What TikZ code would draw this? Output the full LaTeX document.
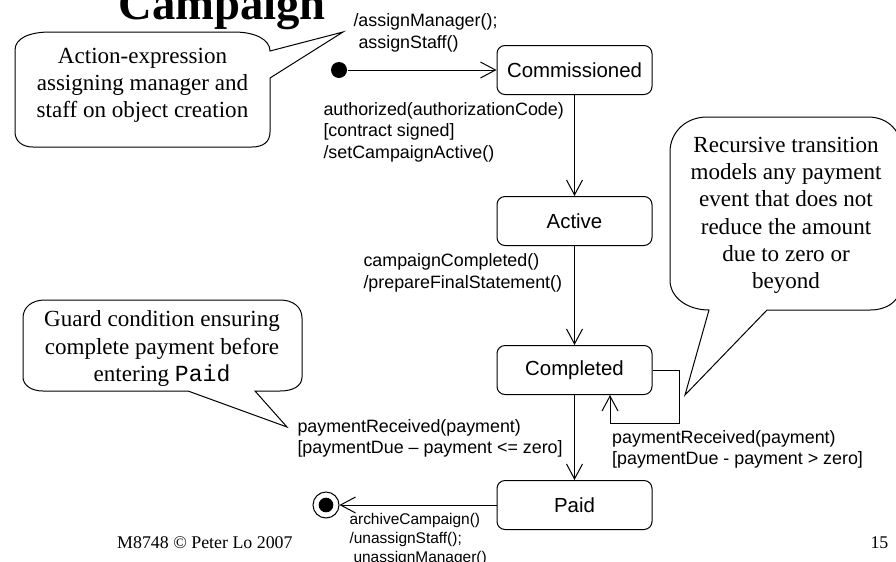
\documentclass[tikz,border=0pt]{standalone}
\usepackage{fontspec}
\setmainfont{Liberation Serif}
\setsansfont{Liberation Sans}
\setmonofont{Liberation Mono}
\usetikzlibrary{arrows.meta}

\begin{document}
\begin{tikzpicture}[x=0.75pt,y=-0.75pt,
  line width=0.75pt,
  state/.style={draw, rounded corners=6pt, minimum width=116.25pt,
    minimum height=36.75pt, inner sep=0pt,
    font=\fontsize{15.3}{18}\selectfont\sffamily},
  trans/.style={-{Straight Barb[length=11.25pt,width=12pt]}},
  lbl/.style={anchor=north west, inner sep=0pt, align=left,
    font=\fontsize{13.4}{16.1}\selectfont\sffamily},
  smalllbl/.style={anchor=north west, inner sep=0pt, align=left,
    font=\fontsize{11.6}{14.2}\selectfont\sffamily},
  callout/.style={draw, fill=white},
  callouttext/.style={anchor=north, inner sep=0pt, align=center,
    font=\fontsize{17.3}{20.5}\selectfont}
]
% page area
\fill[white] (0,0) rectangle (896,561);
\useasboundingbox (0,0) rectangle (896,561);

% heading (runs off the top edge of the page)
\node[anchor=base west, inner sep=0pt,
  font=\fontsize{35}{40}\selectfont\bfseries] (title) at (118,19) {Campaign};

% states
\node[state] (comm) at (574.5,70)  {Commissioned};
\node[state] (act)  at (574.5,221) {Active};
\node[state] (comp) at (574.5,370) {Completed};
\node[state] (paid) at (574.5,505) {Paid};

% pseudo-states
\node[circle, fill, minimum size=12pt, inner sep=0pt] (init) at (339,70) {};
\node[circle, draw, minimum size=19.5pt, inner sep=0pt] (final) at (326,505) {};
\node[circle, fill, minimum size=11pt, inner sep=0pt] (finaldot) at (final) {};

% transitions
\draw[trans] (init) -- (comm);
\draw[trans] (comm) -- (act);
\draw[trans] (act) -- (comp);
\draw[trans] (comp) -- (paid);
\draw[trans] (paid) -- (final);

% self transition on Completed
\coordinate (loopA) at (679,370);
\coordinate (loopB) at (679,423);
\coordinate (loopC) at (610,423);
\draw[trans] (comp.east) -- (loopA) -- (loopB) -- (loopC) -- (loopC |- comp.south);

% transition labels
\node[lbl] (l1) at (353,13.5) {/assignManager();\\\hspace*{3.75pt}assignStaff()};
\node[lbl] (l2) at (323,101.7) {authorized(authorizationCode)\\{[contract signed]}\\/setCampaignActive()};
\node[lbl] (l3) at (363,253.4) {campaignCompleted()\\/prepareFinalStatement()};
\node[lbl] (l4) at (297,418.7) {paymentReceived(payment)\\{[paymentDue – payment <= zero]}};
\node[lbl] (l5) at (611.7,429.7) {paymentReceived(payment)\\{[paymentDue - payment > zero]}};
\node[smalllbl] (l6) at (349,512.8) {archiveCampaign()\\/unassignStaff();\\\hspace*{3pt}unassignManager()};

% callout: initial action
\draw[callout] (15,50) .. controls (15,38) and (30,32) .. (50,32) -- (234,32)
  .. controls (256,32) and (270,40) .. (270,51) -- (343,32) -- (270,78)
  -- (270,132) .. controls (270,142) and (263,147) .. (252,147) -- (33,147)
  .. controls (22,147) and (15,141) .. (15,132) -- cycle;
\node[callouttext] (c1) at (142.5,47.3) {Action-expression\\assigning manager and\\staff on object creation};

% callout: recursive transition
\draw[callout] (670,152) .. controls (670,132) and (686,117) .. (707,117) -- (868,117)
  .. controls (888,117) and (902,131) .. (902,152) -- (902,282)
  .. controls (902,298) and (890,310) .. (870,310) -- (767,310) -- (685,395)
  -- (709,310) .. controls (688,310) and (670,298) .. (670,280) -- cycle;
\node[callouttext] (c2) at (786,136.5) {Recursive transition\\models any payment\\event that does not\\reduce the amount\\due to zero or\\beyond};

% callout: guard condition
\draw[callout] (23,318) .. controls (23,307) and (32,300) .. (45,300) -- (280,300)
  .. controls (293,300) and (302,307) .. (302,318) -- (302,377)
  .. controls (302,386) and (293,391) .. (280,391) -- (255,391) -- (287,427)
  -- (188,391) -- (43,391) .. controls (31,391) and (23,385) .. (23,377) -- cycle;
\node[callouttext] (c3) at (162,310.3) {Guard condition ensuring\\complete payment before\\entering \texttt{Paid}};

% footer
\node[anchor=base west, inner sep=0pt, font=\fontsize{13.4}{16}\selectfont] (foot) at (116.7,548) {M8748 © Peter Lo 2007};
\node[anchor=base west, inner sep=0pt, font=\fontsize{13.4}{16}\selectfont] (pageno) at (870,548) {15};
\end{tikzpicture}
\end{document}
